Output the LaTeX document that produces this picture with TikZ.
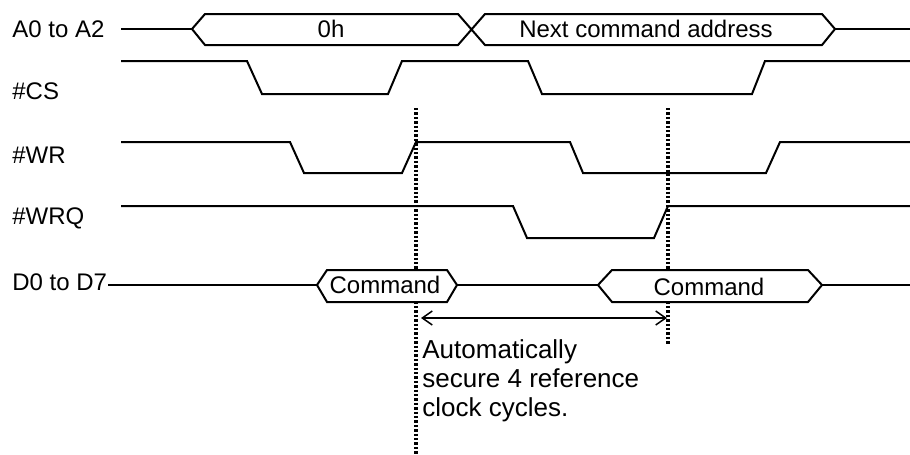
\documentclass[tikz,border=0pt]{standalone}
\usepackage{fontspec}
\setmainfont{Liberation Sans}
\usetikzlibrary{arrows.meta}

\begin{document}
\begin{tikzpicture}[x=0.5pt,y=-0.5pt]
    \tikzset{sig/.style = {line width=1pt, line join=miter},
        busbox/.style = {sig, fill=white},
        marker/.style = {line width=1.7pt, dash pattern=on 1.2pt off 1pt},
        sigName/.style = {anchor=west, inner sep=0pt,
            font=\fontsize{12pt}{14pt}\selectfont},
        busText/.style = {inner sep=0pt,
            font=\fontsize{12pt}{14pt}\selectfont}}
    \useasboundingbox (0,0) rectangle (910,455);
    % markers
    \draw[marker] (416,108) -- (416,455);
    \draw[marker] (668,108) -- (668,345);
    % signal names
    \node[sigName] (addrName) at (12,29) {A0 to A2};
    \node[sigName] (csName) at (12,91) {\#CS};
    \node[sigName] (wrName) at (12,155) {\#WR};
    \node[sigName] (wrqName) at (12,218) {\#WRQ};
    \node[sigName] (dataName) at (12,282) {D0 to D7};
    % address bus
    \draw[sig] (121,29) -- (192,29);
    \draw[busbox] (192,29) -- (205,14) -- (458,14) -- (485,45) -- (822,45)
        -- (835,29) -- (822,14) -- (485,14) -- (458,45) -- (205,45) -- cycle;
    \draw[sig] (835,29) -- (910,29);
    \node[busText] (addrA) at (331,29) {0h};
    \node[busText] (addrB) at (646,29) {Next command address};
    % strobes
    \draw[sig] (121,61) -- (247,61) -- (262,94) -- (388,94) -- (402,61)
        -- (528,61) -- (542,94) -- (752,94) -- (765,61) -- (910,61);
    \draw[sig] (121,142) -- (290,142) -- (304,173) -- (402,173) -- (416,142)
        -- (570,142) -- (583,173) -- (766,173) -- (780,142) -- (910,142);
    \draw[sig] (121,206) -- (513,206) -- (527,238) -- (654,238) -- (668,206)
        -- (910,206);
    % data bus
    \draw[sig] (108,285) -- (317,285);
    \draw[busbox] (317,285) -- (327,270) -- (447,270) -- (457,285)
        -- (447,302) -- (327,302) -- cycle;
    \draw[sig] (457,285) -- (598,285);
    \draw[busbox] (598,285) -- (612,270) -- (808,270) -- (822,285)
        -- (808,302) -- (612,302) -- cycle;
    \draw[sig] (822,285) -- (910,285);
    \node[busText] (cmdA) at (385,285) {Command};
    \node[busText] (cmdB) at (709,287) {Command};
    % interval
    \coordinate (gapL) at (421,318);
    \coordinate (gapR) at (667,318);
    \draw[line width=0.75pt, {Straight Barb[length=5pt,width=7pt]}-{Straight Barb[length=5pt,width=7pt]}] (gapL) -- (gapR);
    \node[anchor=north west, inner sep=0pt, align=left,
        font=\fontsize{13pt}{14.5pt}\selectfont] (note) at (422,339)
        {Automatically\\secure 4 reference\\clock cycles.};
\end{tikzpicture}
\end{document}
